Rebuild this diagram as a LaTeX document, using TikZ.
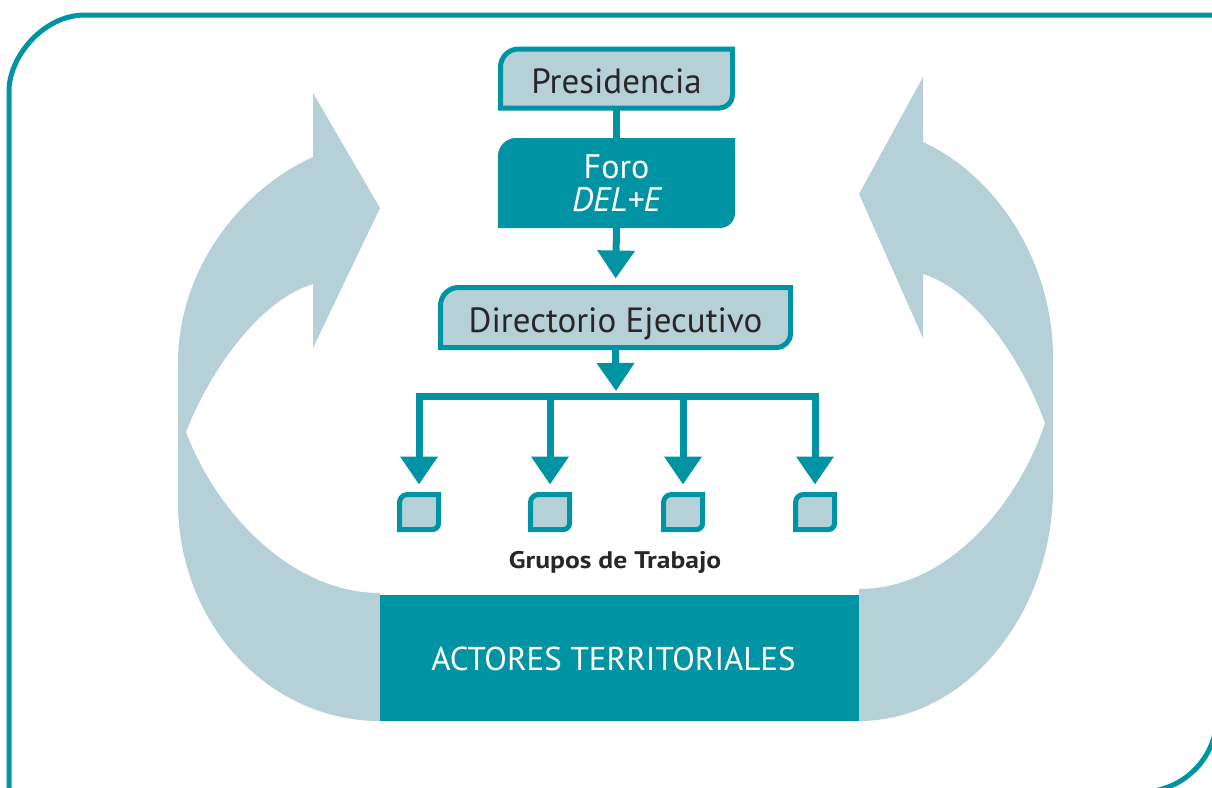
\documentclass[tikz,border=0pt]{standalone}
\usepackage{fontspec}
\setmainfont{PT Sans}
\newfontfamily\widebold[FakeStretch=1.15]{PT Sans Bold}
\usetikzlibrary{arrows.meta,calc}
\definecolor{teal1}{RGB}{0,147,163}
\definecolor{light1}{RGB}{182,208,216}
\definecolor{ink}{RGB}{40,38,38}
\pgfdeclarelayer{bg}\pgfsetlayers{bg,main}
\newcommand\cornerbox[4]{%
  \path[#4] let \p1=(#1.north west), \p2=(#1.south east) in
    (\x1,\y2) -- (\x1,\y1-#2) .. controls (\x1,\y1-0.45*#2) and (\x1+0.45*#2,\y1) .. (\x1+#2,\y1) -- (\x2,\y1)
    -- (\x2,\y2+#3) .. controls (\x2,\y2+0.45*#3) and (\x2-0.45*#3,\y2) .. (\x2-#3,\y2) -- cycle;}
\tikzset{
  lightbox/.style={draw=teal1, fill=light1, line width=5pt, line join=miter},
  tealbox/.style={fill=teal1},
  conn/.style={draw=teal1, line width=7pt, line join=miter},
  tip/.style={-{Triangle[width=36pt,length=28pt]}},
  boxtext/.style={inner sep=0pt, outer sep=0pt, text=ink, font=\fontsize{35}{33}\selectfont},
  sq/.style={inner sep=0pt, outer sep=0pt, minimum width=39pt, minimum height=35pt},
  frame/.style={draw=teal1, line width=5pt},
  bigarrow/.style={fill=light1}
}
\begin{document}
\begin{tikzpicture}[x=1pt,y=-1pt]
\useasboundingbox (0,0) rectangle (1212,787);
\clip (0,0) rectangle (1212,787);
% frame
\draw[frame] (1230,15) -- (85,15) .. controls (43,15) and (9,57) .. (9,91) -- (9,800);
\draw[frame] (1217,600) -- (1217,716) .. controls (1217,758) and (1183,792) .. (1141,792) -- (900,792);
% big arrows
\path[bigarrow] (380,721) .. controls (268,721) and (178,623) .. (178,502) -- (178,363)
  .. controls (178,270) and (240,190) .. (313,157) -- (313,93) -- (380,208) -- (313,348) -- (313,284)
  .. controls (260,300) and (210,370) .. (186,432) .. controls (215,510) and (290,593) .. (380,593) -- cycle;
\path[bigarrow] (859,721) .. controls (965,721) and (1053,615) .. (1053,488) -- (1053,358)
  .. controls (1053,260) and (995,175) .. (923,142) -- (923,77) -- (859,194) -- (923,338) -- (923,274)
  .. controls (975,290) and (1022,360) .. (1045,423) .. controls (1020,500) and (950,589) .. (859,589) -- cycle;
% nodes
\node[boxtext, text height=30pt, text depth=0pt, minimum width=232pt, minimum height=59pt] (pres) at (616.5,78.5) {Presidencia};
\node[boxtext, text=white, align=center, font=\fontsize{34}{33}\selectfont, minimum width=237pt, minimum height=90pt] (foro) at (616.5,183) {Foro\\\itshape DEL+E};
\node[boxtext, text height=30pt, text depth=0pt, minimum width=350pt, minimum height=60pt] (dir) at (615.5,317.5) {Directorio Ejecutivo};
\node[sq] (g1) at (419,512) {};
\node[sq] (g2) at (550,512) {};
\node[sq] (g3) at (683,512) {};
\node[sq] (g4) at (815,512) {};
\node[inner sep=0pt, anchor=base, text=ink, font=\widebold\fontsize{24}{28}\selectfont] (grp) at (615,568) {Grupos de Trabajo};
\node[boxtext, text=white, fill=teal1, font=\fontsize{33}{33}\selectfont, text height=24pt, text depth=0pt, minimum width=479pt, minimum height=126pt] (act) at (619.5,658) {\hspace*{-12pt}ACTORES TERRITORIALES};
\coordinate (hub) at (616,396);
\begin{pgfonlayer}{bg}
  \cornerbox{pres}{18pt}{13pt}{lightbox}
  \cornerbox{foro}{18pt}{15pt}{tealbox}
  \cornerbox{dir}{18pt}{14pt}{lightbox}
  \foreach \g in {g1,g2,g3,g4}{\cornerbox{\g}{8pt}{6pt}{lightbox}}
\end{pgfonlayer}
% connectors
\draw[conn] (pres.south) -- (foro.north);
\draw[conn, tip, shorten >=9pt] (foro.south) -- (dir.north);
\draw[conn, tip, shorten >=5pt] (dir.south) -- (hub);
\foreach \g in {g1,g2,g3,g4}{\draw[conn, tip, shorten >=10pt] (hub) -| (\g.north);}
\end{tikzpicture}
\end{document}
